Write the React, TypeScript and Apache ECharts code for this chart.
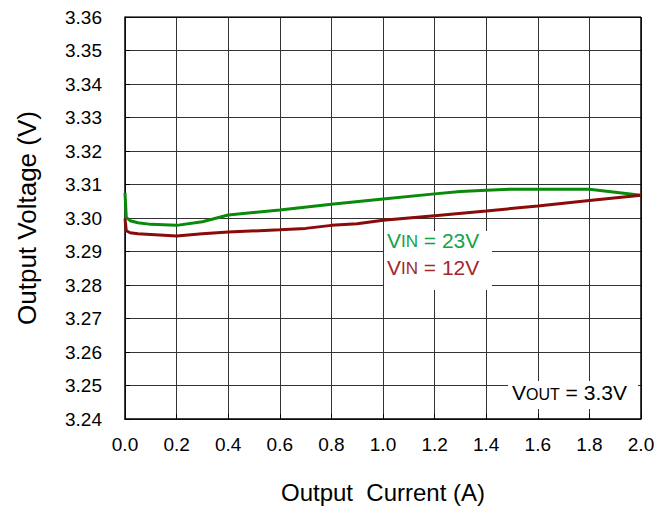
import React, { useEffect, useRef } from "react";
import * as echarts from "echarts";

const currents23 = [0, 0.005, 0.02, 0.05, 0.1, 0.2, 0.3, 0.4, 0.6, 0.8, 1.0, 1.2, 1.3, 1.4, 1.5, 1.6, 1.8, 2.0];
const vin23 = [3.3075, 3.3002, 3.2992, 3.2986, 3.2981, 3.2978, 3.2989, 3.3009, 3.3024, 3.3041, 3.3057, 3.3072, 3.3079, 3.3083, 3.3086, 3.3086, 3.3086, 3.3068];
const currents12 = [0, 0.005, 0.02, 0.05, 0.1, 0.2, 0.3, 0.4, 0.6, 0.7, 0.8, 0.9, 1.0, 1.2, 1.4, 1.6, 1.8, 2.0];
const vin12 = [3.2998, 3.2962, 3.2956, 3.2953, 3.2951, 3.2946, 3.2953, 3.2958, 3.2965, 3.2969, 3.2978, 3.2983, 3.2993, 3.3007, 3.3021, 3.3036, 3.3052, 3.3068];

const xMin = 0, xMax = 2.0, xStep = 0.2;
const yMin = 3.24, yMax = 3.36, yStep = 0.01;

const FONT = "'Liberation Sans', Arial, sans-serif";

function richStyles(color: string, big: number, small: number) {
  return {
    a: { fontSize: big, fill: color, fontFamily: FONT, lineHeight: 24, verticalAlign: "bottom" },
    b: { fontSize: small, fill: color, fontFamily: FONT, lineHeight: 24, verticalAlign: "bottom", padding: [0, 0, 1, 0] },
  };
}

export default function App() {
  const ref = useRef<HTMLDivElement>(null);
  useEffect(() => {
    if (!ref.current) return;
    const chart = echarts.init(ref.current, undefined, { renderer: "svg" });
    chart.setOption({
      animation: false,
      backgroundColor: "#ffffff",
      textStyle: { fontFamily: FONT },
      grid: { left: 125, right: 30, top: 17, bottom: 90, show: false },
      xAxis: {
        type: "value",
        min: xMin,
        max: xMax,
        interval: xStep,
        name: "Output  Current (A)",
        nameLocation: "middle",
        nameGap: 61,
        nameTextStyle: { fontSize: 24, color: "#000", fontFamily: FONT },
        axisLine: { show: true, lineStyle: { color: "#000", width: 1.5 } },
        axisTick: { show: true, inside: true, length: 5, lineStyle: { color: "#000" } },
        axisLabel: {
          fontSize: 19,
          color: "#000",
          margin: 16,
          fontFamily: FONT,
          formatter: (v: number) => v.toFixed(1),
        },
        splitLine: { show: true, lineStyle: { color: "#333", width: 1 } },
      },
      yAxis: {
        type: "value",
        min: yMin,
        max: yMax,
        interval: yStep,
        name: "Output Voltage (V)",
        nameLocation: "middle",
        nameGap: 85,
        nameRotate: 90,
        nameTextStyle: { fontSize: 26, color: "#000", fontFamily: FONT },
        axisLine: { show: true, lineStyle: { color: "#000", width: 1.5 } },
        axisTick: { show: true, inside: true, length: 5, lineStyle: { color: "#000" } },
        axisLabel: {
          fontSize: 19,
          color: "#000",
          margin: 23,
          fontFamily: FONT,
          formatter: (v: number) => v.toFixed(2),
        },
        splitLine: { show: true, lineStyle: { color: "#333", width: 1 } },
      },
      series: [
        {
          type: "line",
          name: "VIN = 23V",
          data: currents23.map((x, i) => [x, vin23[i]]),
          showSymbol: false,
          lineStyle: { color: "#0a8a0a", width: 3 },
          itemStyle: { color: "#0a8a0a" },
          z: 3,
        },
        {
          type: "line",
          name: "VIN = 12V",
          data: currents12.map((x, i) => [x, vin12[i]]),
          showSymbol: false,
          lineStyle: { color: "#8b0a0a", width: 3 },
          itemStyle: { color: "#8b0a0a" },
          z: 3,
        },
        {
          type: "line",
          name: "right border",
          data: [[xMax, yMin], [xMax, yMax]],
          showSymbol: false,
          lineStyle: { color: "#000", width: 1.5 },
          silent: true,
          z: 2,
        },
        {
          type: "line",
          name: "top border",
          data: [[xMin, yMax], [xMax, yMax]],
          showSymbol: false,
          lineStyle: { color: "#000", width: 1.5 },
          silent: true,
          z: 2,
        },
      ],
      graphic: [
        {
          type: "rect",
          shape: { x: 384, y: 231, width: 108, height: 59 },
          style: { fill: "#ffffff" },
          z: 10,
        },
        {
          type: "text",
          x: 387,
          y: 227,
          z: 11,
          style: {
            text: "{a|V}{b|IN}{a| = 23V}",
            rich: richStyles("#12a34a", 21, 17),
          },
        },
        {
          type: "text",
          x: 387,
          y: 254,
          z: 11,
          style: {
            text: "{a|V}{b|IN}{a| = 12V}",
            rich: richStyles("#a1282d", 21, 17),
          },
        },
        {
          type: "rect",
          shape: { x: 508, y: 381, width: 130, height: 28 },
          style: { fill: "#ffffff" },
          z: 10,
        },
        {
          type: "text",
          x: 512,
          y: 379,
          z: 11,
          style: {
            text: "{a|V}{b|OUT}{a| = 3.3V}",
            rich: richStyles("#000", 21, 16),
          },
        },
      ],
    });
    return () => chart.dispose();
  }, []);
  return (
    <div
      ref={ref}
      style={{ position: "fixed", left: 0, top: 0, width: 671, height: 509 }}
    />
  );
}
